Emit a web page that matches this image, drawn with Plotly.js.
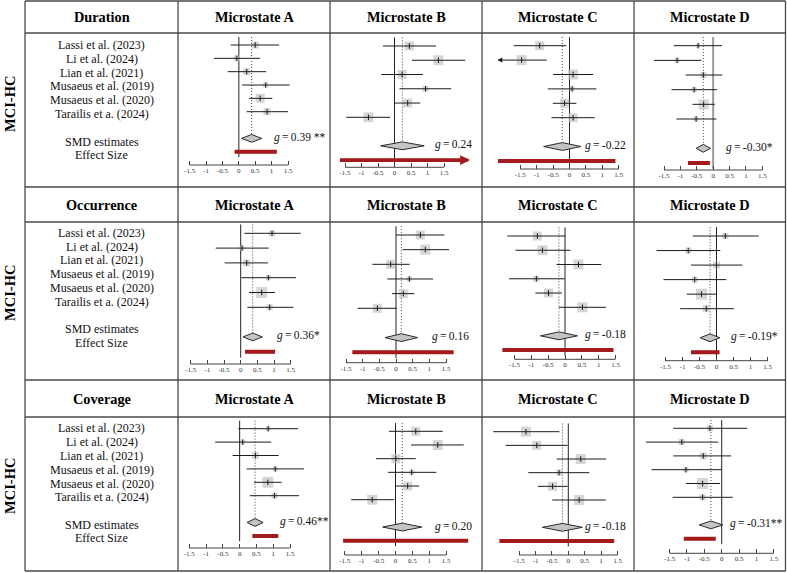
<!DOCTYPE html>
<html>
<head>
<meta charset="utf-8">
<script src="https://cdn.plot.ly/plotly-3.0.1.min.js"></script>
<style>
  html, body { margin: 0; padding: 0; background: #ffffff; }
  #chart { width: 787px; height: 573px; }
</style>
</head>
<body>
<div id="chart"></div>
<script>
// ---- Data -------------------------------------------------------------
const studies = [
  "Lassi et al. (2023)",
  "Li et al. (2024)",
  "Lian et al. (2021)",
  "Musaeus et al. (2019)",
  "Musaeus et al. (2020)",
  "Tarailis et a. (2024)"
];
const measures = ["Duration", "Occurrence", "Coverage"];
const states = ["Microstate A", "Microstate B", "Microstate C", "Microstate D"];
const groupLabel = "MCI-HC";
const pooledLabel = "SMD estimates";
const effectLabel = "Effect Size";
const tickValues = [-1.5, -1, -0.5, 0, 0.5, 1, 1.5];
const tickLabels = ["-1.5", "-1", "-0.5", "0", "0.5", "1", "1.5"];

// Duration: one inner list per microstate (A, B, C, D), one value per study
const durationEst = [
  [0.50, -0.06, 0.24, 0.82, 0.65, 0.86],
  [0.45, 1.33, 0.23, 0.94, 0.40, -0.79],
  [-0.91, -1.46, 0.11, 0.08, -0.15, 0.11],
  [-0.46, -1.10, -0.30, -0.58, -0.29, -0.52]
];
const durationLo = [
  [-0.25, -0.76, -0.34, 0.10, 0.31, 0.24],
  [-0.35, 0.53, -0.40, 0.15, -0.01, -1.46],
  [-1.70, -2.20, -0.50, -0.66, -0.51, -0.55],
  [-1.20, -1.81, -0.84, -1.27, -0.63, -1.12]
];
const durationHi = [
  [1.23, 0.65, 0.83, 1.55, 1.02, 1.50],
  [1.26, 2.14, 0.86, 1.72, 0.78, -0.13],
  [-0.10, -0.65, 0.72, 0.82, 0.21, 0.77],
  [0.27, -0.36, 0.28, 0.12, 0.05, 0.10]
];
const durationWeight = [
  [7, 6, 7, 5, 9, 7],
  [9, 10, 9, 6, 9, 10],
  [9, 10, 10, 5, 9, 9],
  [4, 5, 6, 5, 10, 5]
];
const durationG = [0.39, 0.24, -0.22, -0.30];
const durationGLo = [0.08, -0.42, -0.79, -0.52];
const durationGHi = [0.70, 0.90, 0.35, -0.08];
const durationStars = [" **", "", "", "*"];
const durationEffLo = [-0.13, -1.70, -2.18, -0.77];
const durationEffHi = [1.16, 2.29, 1.40, -0.10];

// Occurrence
const occurrenceEst = [
  [0.94, 0.04, 0.18, 0.83, 0.63, 0.87],
  [0.73, 0.88, -0.16, 0.40, 0.22, -0.56],
  [-0.82, -0.67, 0.40, -0.85, -0.49, 0.52],
  [0.26, -0.83, 0.00, -0.64, -0.44, -0.30]
];
const occurrenceLo = [
  [0.11, -0.75, -0.48, 0.02, 0.25, 0.20],
  [0.00, 0.20, -0.71, -0.26, -0.12, -1.15],
  [-1.71, -1.47, -0.25, -1.66, -0.88, -0.18],
  [-0.70, -1.76, -0.75, -1.56, -0.87, -1.07]
];
const occurrenceHi = [
  [1.80, 0.84, 0.82, 1.66, 1.03, 1.58],
  [1.45, 1.59, 0.41, 1.11, 0.55, 0.02],
  [0.02, 0.16, 1.08, -0.01, -0.09, 1.22],
  [1.24, 0.11, 0.76, 0.29, -0.02, 0.51]
];
const occurrenceWeight = [
  [6, 5, 7, 5, 11, 6],
  [9, 10, 9, 5, 9, 9],
  [9, 10, 10, 6, 9, 10],
  [6, 6, 7, 6, 11, 7]
];
const occurrenceG = [0.36, 0.16, -0.18, -0.19];
const occurrenceGLo = [0.07, -0.33, -0.73, -0.48];
const occurrenceGHi = [0.65, 0.65, 0.37, 0.10];
const occurrenceStars = ["*", "", "", "*"];
const occurrenceEffLo = [0.13, -1.31, -1.86, -0.75];
const occurrenceEffHi = [1.03, 1.73, 1.44, 0.09];

// Coverage
const coverageEst = [
  [0.85, 0.09, 0.47, 1.06, 0.84, 1.04],
  [0.60, 1.25, 0.01, 0.48, 0.36, -0.69],
  [-1.29, -0.96, 0.38, -0.28, -0.48, 0.33],
  [-0.34, -1.15, -0.53, -1.03, -0.55, -0.55]
];
const coverageLo = [
  [-0.04, -0.73, -0.21, 0.21, 0.43, 0.30],
  [-0.19, 0.46, -0.58, -0.22, 0.02, -1.31],
  [-2.29, -1.91, -0.35, -1.22, -0.93, -0.49],
  [-1.39, -2.18, -1.39, -2.02, -1.03, -1.41]
];
const coverageHi = [
  [1.74, 0.94, 1.16, 1.92, 1.25, 1.77],
  [1.40, 2.02, 0.60, 1.21, 0.70, -0.04],
  [-0.27, -0.02, 1.15, 0.64, -0.02, 1.14],
  [0.74, -0.10, 0.27, 0.00, -0.05, 0.32]
];
const coverageWeight = [
  [5, 5, 7, 5, 11, 6],
  [9, 10, 9, 5, 9, 10],
  [10, 9, 10, 6, 9, 10],
  [6, 6, 7, 5, 11, 6]
];
const coverageG = [0.46, 0.20, -0.18, -0.31];
const coverageGLo = [0.22, -0.38, -0.79, -0.65];
const coverageGHi = [0.70, 0.78, 0.43, 0.03];
const coverageStars = ["**", "", "", "**"];
const coverageEffLo = [0.38, -1.55, -2.10, -1.09];
const coverageEffHi = [1.15, 2.15, 1.40, -0.17];

// ---- Grouping of the series by measure --------------------------------
const EST = [durationEst, occurrenceEst, coverageEst];
const LO = [durationLo, occurrenceLo, coverageLo];
const HI = [durationHi, occurrenceHi, coverageHi];
const WT = [durationWeight, occurrenceWeight, coverageWeight];
const G = [durationG, occurrenceG, coverageG];
const GLO = [durationGLo, occurrenceGLo, coverageGLo];
const GHI = [durationGHi, occurrenceGHi, coverageGHi];
const STARS = [durationStars, occurrenceStars, coverageStars];
const EFFLO = [durationEffLo, occurrenceEffLo, coverageEffLo];
const EFFHI = [durationEffHi, occurrenceEffHi, coverageEffHi];

// ---- Page geometry (pixels) -------------------------------------------
const W = 787, H = 573;
const FONT = "Liberation Serif, Times New Roman, serif";
const colX = [25, 178, 330, 482, 634, 785.5];
const rowTop = [1, 187, 380];
const headBot = [33, 222, 417];
const rowBot = [187, 380, 571];
const headY = [17, 204.5, 398.5];
const sideLabelY = [104, 293, 486];
const textFirstY = [45, 232.7, 428.3];
const textStep = 13.8;

// per panel: x of -1.5 tick, x of 1.5 tick, y of first study, y of last study, y of axis line
const geom = [
  [[189.7, 288, 45, 111.7, 165], [345, 444, 46, 117.3, 167.3], [520.3, 618.7, 45.7, 117.7, 169], [664, 762.3, 45.7, 119, 170]],
  [[190.7, 290.7, 233.3, 307.3, 364], [346, 446, 235, 308.3, 362.7], [514.5, 615.5, 236, 307.3, 359.3], [665.5, 767.5, 236, 308.7, 360.7]],
  [[189.3, 290, 428.7, 495.7, 548], [344.8, 446.2, 431.3, 499.7, 555], [519.1, 617.5, 431.7, 500, 555], [669.6, 773.8, 428.3, 497.3, 553.3]]
];
// where the pooled-estimate label starts (axis units)
const gLabelX = [[1.02, 1.18, 0.42, 0.32], [1.03, 1.02, 0.53, 0.38], [1.15, 1.12, 0.44, 0.19]];
// intervals drawn as arrows because they run past the plotted range
const ciArrows = { "0-2": [1] };
const effArrows = { "0-1": true };
const zeroStyle = { "0-3": { color: "#9a9a9a", width: 2 } };

const px = p => p / W;
const py = p => 1 - p / H;
const THIN = "\u2009";

const SQUARE = "#c4c4c4";
const INK = "#1c1c1c";
const RED = "#a3191c";
const GRID = "#4a4a4a";

const traces = [];
const shapes = [];
const annotations = [];
const layout = {
  width: W, height: H,
  margin: { l: 0, r: 0, t: 0, b: 0, pad: 0 },
  paper_bgcolor: "#ffffff", plot_bgcolor: "rgba(0,0,0,0)",
  showlegend: false, hovermode: false,
  font: { family: FONT, color: "#111" }
};

const rows = studies.map((_, i) => i + 1);
const POOLED_ROW = 8, EFFECT_ROW = 9;

measures.forEach((measure, r) => {
  states.forEach((state, c) => {
    const n = r * 4 + c + 1;
    const sfx = n > 1 ? String(n) : "";
    const xa = "x" + sfx, ya = "y" + sfx;
    const [m15, p15, y1, y6, yAx] = geom[r][c];
    const unit = (p15 - m15) / 3, zero = (m15 + p15) / 2;
    const L = colX[c + 1] + 1.5, R = colX[c + 2] - 1.5;
    const uy = (y6 - y1) / 5, top = headBot[r] + 1.5;

    layout["xaxis" + sfx] = {
      domain: [px(L), px(R)],
      range: [(L - zero) / unit, (R - zero) / unit],
      anchor: ya, showgrid: false, zeroline: false, showline: false,
      ticks: "inside", ticklen: 4, tickwidth: 1, tickcolor: "#444",
      tickvals: tickValues, ticktext: tickLabels,
      tickfont: { family: FONT, size: 7, color: "#333" },
      fixedrange: true
    };
    layout["yaxis" + sfx] = {
      domain: [1 - yAx / H, 1 - top / H],
      range: [1 + (yAx - y1) / uy, 1 - (y1 - top) / uy],
      anchor: xa, visible: false, fixedrange: true
    };

    const est = EST[r][c], lo = LO[r][c], hi = HI[r][c], wt = WT[r][c];
    const g = G[r][c], gLo = GLO[r][c], gHi = GHI[r][c];
    const key = r + "-" + c;
    const arrowRows = ciArrows[key] || [];
    const dh = 3.9 / uy;

    // study weights as squares
    traces.push({
      type: "scatter", mode: "markers", x: est, y: rows, xaxis: xa, yaxis: ya,
      marker: { symbol: "square", size: wt, color: SQUARE, line: { width: 0 } },
      hoverinfo: "skip", cliponaxis: false
    });
    // confidence intervals
    const cx = [], cy = [];
    est.forEach((e, i) => {
      if (arrowRows.includes(i)) return;
      cx.push(lo[i], hi[i], null); cy.push(i + 1, i + 1, null);
    });
    traces.push({
      type: "scatter", mode: "lines", x: cx, y: cy, xaxis: xa, yaxis: ya,
      line: { color: INK, width: 1 }, hoverinfo: "skip", cliponaxis: false
    });
    arrowRows.forEach(i => {
      annotations.push({
        xref: xa, yref: ya, axref: xa, ayref: ya,
        x: lo[i], y: i + 1, ax: hi[i], ay: i + 1, text: "",
        showarrow: true, arrowhead: 2, arrowsize: 1, arrowwidth: 1, arrowcolor: INK
      });
    });
    // point estimates
    traces.push({
      type: "scatter", mode: "markers", x: est, y: rows, xaxis: xa, yaxis: ya,
      marker: { symbol: "line-ns", size: 4, line: { width: 1, color: INK } },
      hoverinfo: "skip", cliponaxis: false
    });
    // pooled estimate diamond
    traces.push({
      type: "scatter", mode: "lines",
      x: [gLo, g, gHi, g, gLo],
      y: [POOLED_ROW, POOLED_ROW - dh, POOLED_ROW, POOLED_ROW + dh, POOLED_ROW],
      xaxis: xa, yaxis: ya, fill: "toself", fillcolor: SQUARE,
      line: { color: "#2a2a2a", width: 1 }, hoverinfo: "skip", cliponaxis: false
    });
    // effect size bar
    if (effArrows[key]) {
      annotations.push({
        xref: xa, yref: ya, axref: xa, ayref: ya,
        x: EFFHI[r][c], y: EFFECT_ROW, ax: EFFLO[r][c], ay: EFFECT_ROW, text: "",
        showarrow: true, arrowhead: 2, arrowsize: 0.55, arrowwidth: 3.6, arrowcolor: RED
      });
    } else {
      traces.push({
        type: "scatter", mode: "lines", x: [EFFLO[r][c], EFFHI[r][c]], y: [EFFECT_ROW, EFFECT_ROW],
        xaxis: xa, yaxis: ya, line: { color: RED, width: 4 }, hoverinfo: "skip", cliponaxis: false
      });
    }

    // axis line spanning the tick range
    shapes.push({
      type: "line", xref: xa, yref: ya + " domain",
      x0: tickValues[0], x1: tickValues[tickValues.length - 1], y0: 0, y1: 0,
      line: { color: "#444", width: 1 }
    });
    // no-effect line and pooled-estimate reference line
    const zs = zeroStyle[key] || { color: "#222", width: 1 };
    shapes.push({
      type: "line", xref: xa, yref: ya, layer: "below",
      x0: 0, x1: 0, y0: 0.4, y1: EFFECT_ROW + 0.4,
      line: { color: zs.color, width: zs.width }
    });
    shapes.push({
      type: "line", xref: xa, yref: ya, layer: "below",
      x0: g, x1: g, y0: 0.4, y1: POOLED_ROW - dh,
      line: { color: "#444", width: 1, dash: "1px,2px" }
    });
    // pooled label
    annotations.push({
      xref: xa, yref: ya, x: gLabelX[r][c], y: POOLED_ROW, yshift: 1,
      xanchor: "left", yanchor: "middle", showarrow: false,
      text: "<i>g</i>" + THIN + "=" + THIN + g.toFixed(2) + STARS[r][c],
      font: { family: FONT, size: 11.5, color: "#111" }
    });
  });

  // header row
  annotations.push({
    xref: "paper", yref: "paper", x: px((colX[0] + colX[1]) / 2), y: py(headY[r]),
    xanchor: "center", yanchor: "middle", showarrow: false,
    text: "<b>" + measure + "</b>", font: { family: FONT, size: 14.3, color: "#000" }
  });
  states.forEach((state, c) => {
    annotations.push({
      xref: "paper", yref: "paper", x: px((colX[c + 1] + colX[c + 2]) / 2), y: py(headY[r]),
      xanchor: "center", yanchor: "middle", showarrow: false,
      text: "<b>" + state + "</b>", font: { family: FONT, size: 14.3, color: "#000" }
    });
  });
  // study names and pooled rows
  const labelRows = studies.map((s, i) => [s, textFirstY[r] + i * textStep]);
  labelRows.push([pooledLabel, textFirstY[r] + 7 * textStep]);
  labelRows.push([effectLabel, textFirstY[r] + 7 * textStep + 13.3]);
  labelRows.forEach(([t, yy]) => {
    annotations.push({
      xref: "paper", yref: "paper", x: px((colX[0] + colX[1]) / 2), y: py(yy),
      xanchor: "center", yanchor: "middle", showarrow: false,
      text: t, font: { family: FONT, size: 12, color: "#111" }
    });
  });
  // group label on the left
  annotations.push({
    xref: "paper", yref: "paper", x: px(10), y: py(sideLabelY[r]),
    xanchor: "center", yanchor: "middle", showarrow: false, textangle: -90,
    text: "<b>" + groupLabel + "</b>", font: { family: FONT, size: 14.5, color: "#000" }
  });
});

// table rules
const hRules = [rowTop[0], headBot[0], rowBot[0], headBot[1], rowBot[1], headBot[2], rowBot[2]];
hRules.forEach(y => shapes.push({
  type: "line", xref: "paper", yref: "paper",
  x0: px(colX[0]), x1: px(colX[5]), y0: py(y), y1: py(y),
  line: { color: GRID, width: 1.3 }
}));
colX.forEach(x => shapes.push({
  type: "line", xref: "paper", yref: "paper",
  x0: px(x), x1: px(x), y0: py(rowTop[0]), y1: py(rowBot[2]),
  line: { color: GRID, width: 1.3 }
}));

layout.shapes = shapes;
layout.annotations = annotations;

Plotly.newPlot("chart", traces, layout, { staticPlot: true, displayModeBar: false });
</script>
</body>
</html>
